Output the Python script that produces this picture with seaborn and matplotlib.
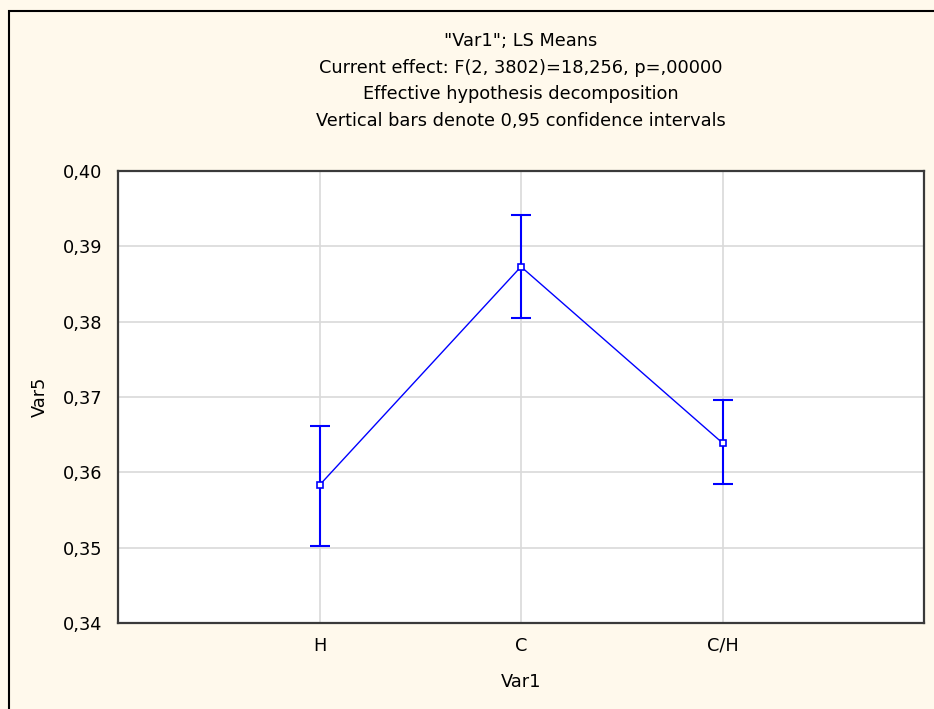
import matplotlib
matplotlib.use("Agg")
import matplotlib.pyplot as plt
import matplotlib.patches as mpatches
from matplotlib.ticker import FuncFormatter
import seaborn as sns
import pandas as pd

# ---- data ----
categories = ["H", "C", "C/H"]
means = [0.3583, 0.3873, 0.3639]
ci_low = [0.3502, 0.3805, 0.3584]
ci_high = [0.3661, 0.3942, 0.3696]
title_lines = ['"Var1"; LS Means',
               'Current effect: F(2, 3802)=18,256, p=,00000',
               'Effective hypothesis decomposition',
               'Vertical bars denote 0,95 confidence intervals']
y_ticks = [0.34, 0.35, 0.36, 0.37, 0.38, 0.39, 0.40]

df = pd.DataFrame({"Var1": categories, "Var5": means})

sns.set_theme(style="white")
plt.rcParams["font.family"] = ["DejaVu Sans"]
FS = 12.8

W, H = 934, 709
bg = "#FFF9EC"
fig = plt.figure(figsize=(W / 100, H / 100), dpi=100, facecolor=bg)
ax = fig.add_axes([118 / W, (H - 623) / H, 806 / W, 452 / H])
ax.set_facecolor("white")

blue = "#0000FF"
err_lo = [m - l for m, l in zip(means, ci_low)]
err_hi = [h - m for m, h in zip(means, ci_high)]
ax.errorbar(categories, means, yerr=[err_lo, err_hi], fmt="none",
            ecolor=blue, elinewidth=1.5, capsize=7.2, capthick=1.5, zorder=3)
sns.lineplot(data=df, x="Var1", y="Var5", ax=ax, color=blue, linewidth=1.0,
             marker="s", markersize=4.5, markerfacecolor="white",
             markeredgecolor=blue, markeredgewidth=1.2, zorder=4, sort=False)

ax.set_xlim(-1, 3)
ax.set_ylim(0.34, 0.40)
ax.set_yticks(y_ticks)
ax.yaxis.set_major_formatter(FuncFormatter(lambda v, p: f"{v:.2f}".replace(".", ",")))
ax.grid(True, color="#D9D9D9", linewidth=1.2)
ax.set_axisbelow(True)
for s in ax.spines.values():
    s.set_color("#3A3A3A")
    s.set_linewidth(1.6)
ax.tick_params(axis="both", which="both", direction="out", length=3, width=1,
               color="#3A3A3A", labelsize=FS, labelcolor="black")
ax.tick_params(axis="y", pad=8)
ax.tick_params(axis="x", pad=7)

ax.set_xlabel("Var1", fontsize=FS, labelpad=13, color="black")
ax.set_ylabel("Var5", fontsize=FS, labelpad=10, color="black")

cx = (118 + 924) / 2 / W
for i, t in enumerate(title_lines):
    yy = 41 + i * 26.7
    fig.text(cx, 1 - yy / H, t, ha="center", va="center", fontsize=FS, color="black")

border = mpatches.Rectangle((9 / W, -0.1), 1.2, (H - 11) / H + 0.1,
                            transform=fig.transFigure, fill=False,
                            edgecolor="black", linewidth=1.5)
fig.add_artist(border)

fig.savefig("out.png", dpi=100, facecolor=bg)
